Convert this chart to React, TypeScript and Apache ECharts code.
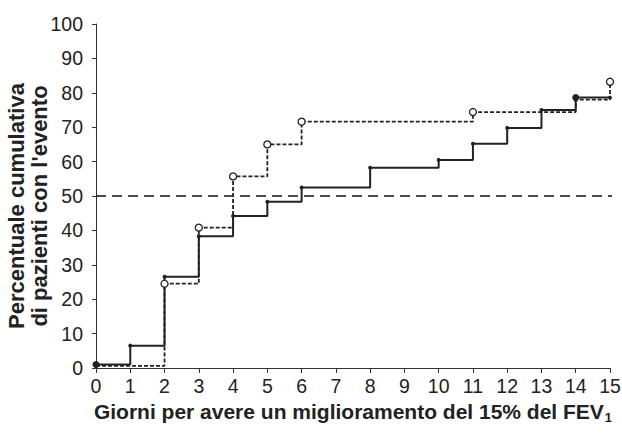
import React, { useEffect, useRef } from "react";
import * as echarts from "echarts";

const days = [0, 1, 2, 3, 4, 5, 6, 8, 10, 11, 12, 13, 14, 15];
const solidValues = [1, 6.5, 26.5, 38.3, 44.2, 48.3, 52.5, 58.2, 60.5, 65.2, 69.8, 75, 78.6, 78.6];
const dashedDays = [0, 2, 3, 4, 5, 6, 11, 14, 15];
const dashedValues = [0.6, 24.5, 40.8, 55.7, 65, 71.6, 74.4, 78, 83.2];
const dashedOpen = [false, true, true, true, true, true, true, false, true];
const yTicks = [0, 10, 20, 30, 40, 50, 60, 70, 80, 90, 100];
const refLevel = 50;

export default function App() {
  const ref = useRef<HTMLDivElement>(null);
  useEffect(() => {
    const chart = echarts.init(ref.current!, null, { renderer: "svg" });
    const font = "Liberation Sans, Arial, sans-serif";
    chart.setOption({
      animation: false,
      grid: { left: 96, right: 12, top: 24, bottom: 68, outerBoundsMode: "none", containLabel: false },
      xAxis: {
        type: "value",
        min: 0,
        max: 15,
        interval: 1,
        splitLine: { show: false },
        axisLine: { lineStyle: { color: "#333", width: 1 } },
        axisTick: { length: 5, lineStyle: { color: "#333" } },
        axisLabel: { color: "#222", fontSize: 19.5, fontFamily: font, margin: 8 },
        name: "{b|Giorni per avere un miglioramento del 15% del FEV}{s|1}",
        nameLocation: "middle",
        nameGap: 31,
        nameMoveOverlap: false,
        nameTextStyle: {
          rich: {
            b: { fontSize: 21, fontWeight: "bold", fontFamily: font, color: "#222" },
            s: { fontSize: 13, fontWeight: "bold", fontFamily: font, color: "#222", padding: [12, 0, 0, 1] },
          },
        },
      },
      yAxis: {
        type: "value",
        min: 0,
        max: 100,
        interval: 10,
        splitLine: { show: false },
        axisLine: { show: true, lineStyle: { color: "#333", width: 1 } },
        axisTick: { show: true, length: 4, lineStyle: { color: "#333" } },
        axisLabel: {
          color: "#222",
          fontSize: 19.5,
          fontFamily: font,
          margin: 13,
          formatter: (v: number) => (yTicks.includes(v) ? String(v) : ""),
        },
        name: "Percentuale cumulativa\ndi pazienti con l'evento",
        nameLocation: "middle",
        nameGap: 45,
        nameMoveOverlap: false,
        nameTextStyle: {
          fontSize: 22,
          fontWeight: "bold",
          fontFamily: font,
          color: "#222",
          lineHeight: 23,
          padding: [0, 20, 0, 0],
        },
      },
      series: [
        {
          type: "line",
          data: [[0, refLevel], [15.2, refLevel]],
          clip: false,
          symbol: "none",
          lineStyle: { color: "#111", width: 1.4, type: [10, 6] },
          z: 1,
        },
        {
          type: "line",
          step: "end",
          data: dashedDays.map((d, i) => ({
            value: [d, dashedValues[i]],
            symbol: "circle",
            symbolSize: dashedOpen[i] ? 7 : 4,
            itemStyle: dashedOpen[i]
              ? { color: "#fff", borderColor: "#222", borderWidth: 1.3 }
              : { color: "#222", borderWidth: 0 },
          })),
          lineStyle: { color: "#222", width: 1.8, type: [4, 2] },
          z: 3,
        },
        {
          type: "line",
          step: "end",
          data: days.map((d, i) => ({
            value: [d, solidValues[i]],
            symbol: "circle",
            symbolSize: i === 0 || i === 12 ? 7 : 4,
            itemStyle: { color: "#222", borderWidth: 0 },
          })),
          lineStyle: { color: "#222", width: 2 },
          z: 2,
        },
      ],
    });
    return () => chart.dispose();
  }, []);
  return <div ref={ref} style={{ width: 622, height: 436, position: "absolute", left: 0, top: 0 }} />;
}
